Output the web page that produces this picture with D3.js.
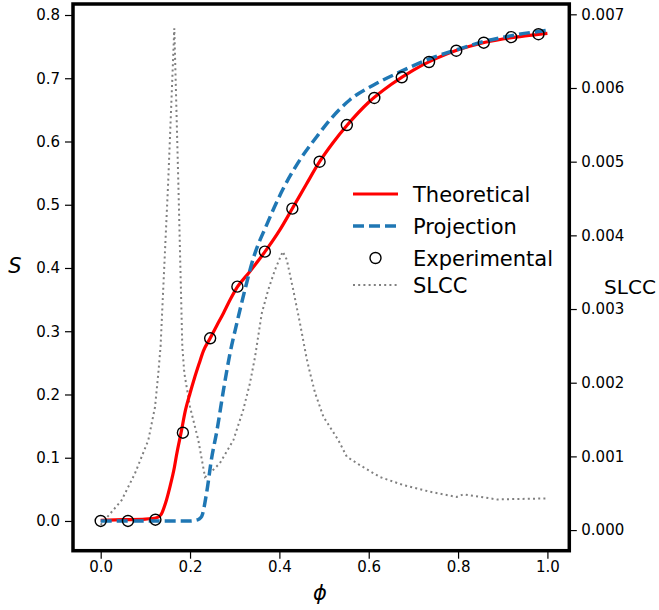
<!DOCTYPE html>
<html>
<head>
<meta charset="utf-8">
<script src="https://cdn.jsdelivr.net/npm/d3@7"></script>
<style>
  body { margin: 0; background: #fff; }
  text { font-family: "DejaVu Sans", sans-serif; }
</style>
</head>
<body>
<div id="chart"></div>
<script>
// theoretical curve
const theoPhi = [0, 0.05, 0.1, 0.125, 0.135, 0.145, 0.155, 0.165, 0.17, 0.18, 0.19, 0.2, 0.21, 0.22, 0.23, 0.245, 0.26, 0.275, 0.29, 0.306, 0.33, 0.35, 0.367, 0.4, 0.429, 0.46, 0.49, 0.52, 0.552, 0.6, 0.65, 0.7, 0.75, 0.8, 0.85, 0.9, 0.95, 1.0];
const theoS = [0.001, 0.002, 0.003, 0.005, 0.010, 0.028, 0.054, 0.085, 0.105, 0.140, 0.176, 0.202, 0.226, 0.248, 0.269, 0.289, 0.309, 0.329, 0.35, 0.37, 0.391, 0.409, 0.425, 0.459, 0.494, 0.532, 0.568, 0.598, 0.626, 0.662, 0.69, 0.713, 0.731, 0.745, 0.755, 0.762, 0.767, 0.771];

// projection curve
const projPhi = [0, 0.05, 0.1, 0.15, 0.2, 0.212, 0.22, 0.226, 0.237, 0.2485, 0.26, 0.2745, 0.2895, 0.305, 0.323, 0.342, 0.372, 0.409, 0.446, 0.484, 0.513, 0.558, 0.61, 0.67, 0.737, 0.797, 0.857, 0.917, 1.0];
const projS = [0, 0, 0, 0, 0, 0.001, 0.003, 0.007, 0.044, 0.10, 0.142, 0.2055, 0.265, 0.3135, 0.366, 0.416, 0.469, 0.526, 0.571, 0.608, 0.634, 0.666, 0.689, 0.710, 0.731, 0.745, 0.758, 0.767, 0.776];

// experimental points
const expPhi = [0, 0.061, 0.1225, 0.184, 0.245, 0.306, 0.3675, 0.429, 0.49, 0.551, 0.6125, 0.674, 0.735, 0.796, 0.8575, 0.919, 0.98];
const expS = [0.0, 0.0, 0.002, 0.1396, 0.2888, 0.3705, 0.4258, 0.4938, 0.568, 0.626, 0.6688, 0.7015, 0.7257, 0.7435, 0.7562, 0.765, 0.7696];

// SLCC (right axis)
const slccPhi = [0, 0.047, 0.0768, 0.1066, 0.1216, 0.129, 0.134, 0.151, 0.1648, 0.1738, 0.1827, 0.1872, 0.2, 0.2185, 0.2335, 0.241, 0.267, 0.297, 0.319, 0.334, 0.3455, 0.3605, 0.375, 0.39, 0.4075, 0.4165, 0.431, 0.446, 0.461, 0.4687, 0.48, 0.4984, 0.532, 0.551, 0.5806, 0.625, 0.6776, 0.737, 0.797, 0.812, 0.887, 1.0];
const slccVal = [0.00007, 0.000407, 0.00077, 0.00122, 0.00167, 0.00213, 0.00249, 0.00471, 0.00681, 0.00471, 0.00249, 0.00213, 0.00167, 0.00122, 0.00072, 0.00075, 0.00091, 0.00122, 0.00163, 0.00199, 0.00235, 0.00294, 0.00326, 0.00353, 0.00378, 0.00367, 0.00326, 0.00281, 0.00233, 0.00213, 0.00186, 0.00154, 0.00122, 0.000995, 0.00088, 0.00072, 0.00061, 0.00052, 0.00045, 0.000485, 0.000416, 0.00043];

const xTicks = [0, 0.2, 0.4, 0.6, 0.8, 1.0];
const yTicks = [0, 0.1, 0.2, 0.3, 0.4, 0.5, 0.6, 0.7, 0.8];
const y2Ticks = [0, 0.001, 0.002, 0.003, 0.004, 0.005, 0.006, 0.007];

const legendItems = ["Theoretical", "Projection", "Experimental", "SLCC"];

const W = 659, H = 610;
const pLeft = 73, pRight = 569.3, pTop = 4, pBottom = 550.7;

const svg = d3.select("#chart")
  .append("svg")
    .attr("width", W)
    .attr("height", H);

const x = d3.scaleLinear()
    .domain([-0.062, 1.049])
    .range([pLeft, pRight]);
const y = d3.scaleLinear()
    .domain([-0.047, 0.8174])
    .range([pBottom, pTop]);
const y2 = d3.scaleLinear()
    .domain([-0.00028, 0.00714])
    .range([pBottom, pTop]);

// axes
const xAxis = svg.append("g")
  .attr("transform", `translate(0, ${pBottom})`)
  .call(d3.axisBottom(x).tickValues(xTicks).tickFormat(d3.format(".1f")).tickSize(8).tickPadding(3));
const yAxis = svg.append("g")
  .attr("transform", `translate(${pLeft}, 0)`)
  .call(d3.axisLeft(y).tickValues(yTicks).tickFormat(d3.format(".1f")).tickSize(8).tickPadding(5));
const y2Axis = svg.append("g")
  .attr("transform", `translate(${pRight}, 0)`)
  .call(d3.axisRight(y2).tickValues(y2Ticks).tickFormat(d3.format(".3f")).tickSize(7.5).tickPadding(4.5));

[xAxis, yAxis, y2Axis].forEach(g => {
  g.select(".domain").remove();
  g.selectAll(".tick line").attr("stroke", "#000").attr("stroke-width", 1.2);
  g.selectAll(".tick text")
    .attr("font-family", "DejaVu Sans")
    .attr("font-size", 15)
    .attr("fill", "#000");
});

const plot = svg.append("g");

// SLCC dotted line
plot.append("path")
  .datum(slccPhi.map((p, i) => ({x: p, y: slccVal[i]})))
  .attr("fill", "none")
  .attr("stroke", "#808080")
  .attr("stroke-width", 2)
  .attr("stroke-dasharray", "2,3.2")
  .attr("d", d3.line()
    .x(d => x(d.x))
    .y(d => y2(d.y)));

// theoretical
plot.append("path")
  .datum(theoPhi.map((p, i) => ({x: p, y: theoS[i]})))
  .attr("fill", "none")
  .attr("stroke", "#ff0000")
  .attr("stroke-width", 3.2)
  .attr("d", d3.line()
    .curve(d3.curveMonotoneX)
    .x(d => x(d.x))
    .y(d => y(d.y)));

// projection
plot.append("path")
  .datum(projPhi.map((p, i) => ({x: p, y: projS[i]})))
  .attr("fill", "none")
  .attr("stroke", "#1f77b4")
  .attr("stroke-width", 3.5)
  .attr("stroke-dasharray", "11,5")
  .attr("d", d3.line()
    .curve(d3.curveMonotoneX)
    .x(d => x(d.x))
    .y(d => y(d.y)));

// experimental circles
plot.selectAll("circle.exp")
  .data(expPhi.map((p, i) => ({x: p, y: expS[i]})))
  .join("circle")
    .attr("class", "exp")
    .attr("cx", d => x(d.x))
    .attr("cy", d => y(d.y))
    .attr("r", 5.5)
    .attr("fill", "none")
    .attr("stroke", "#000")
    .attr("stroke-width", 1.4);

// frame
svg.append("rect")
  .attr("x", pLeft)
  .attr("y", pTop)
  .attr("width", pRight - pLeft)
  .attr("height", pBottom - pTop)
  .attr("fill", "none")
  .attr("stroke", "#000")
  .attr("stroke-width", 3.5);

// axis labels
svg.append("text")
  .attr("x", 15)
  .attr("y", 273)
  .attr("text-anchor", "middle")
  .attr("font-size", 21)
  .attr("font-style", "italic")
  .text("S");
svg.append("text")
  .attr("x", 630)
  .attr("y", 294)
  .attr("text-anchor", "middle")
  .attr("font-size", 20)
  .text("SLCC");
svg.append("text")
  .attr("x", 320)
  .attr("y", 600)
  .attr("text-anchor", "middle")
  .attr("font-size", 21)
  .attr("font-style", "italic")
  .text("ϕ");

// legend
const legY = [194, 226, 258, 285];
const leg = svg.append("g");
legendItems.forEach((name, i) => {
  const cy = legY[i];
  if (name === "Theoretical") {
    leg.append("line").attr("x1", 353).attr("x2", 398).attr("y1", cy).attr("y2", cy)
      .attr("stroke", "#ff0000").attr("stroke-width", 3.2);
  } else if (name === "Projection") {
    leg.append("line").attr("x1", 353).attr("x2", 398).attr("y1", cy).attr("y2", cy)
      .attr("stroke", "#1f77b4").attr("stroke-width", 3.5).attr("stroke-dasharray", "11,5");
  } else if (name === "Experimental") {
    leg.append("circle").attr("cx", 375.5).attr("cy", cy).attr("r", 5.5)
      .attr("fill", "none").attr("stroke", "#000").attr("stroke-width", 1.4);
  } else {
    leg.append("line").attr("x1", 353).attr("x2", 398).attr("y1", cy).attr("y2", cy)
      .attr("stroke", "#808080").attr("stroke-width", 2).attr("stroke-dasharray", "2,3.2");
  }
  leg.append("text")
    .attr("x", 413)
    .attr("y", cy + 7.5)
    .attr("font-size", 21)
    .text(name);
});
</script>
</body>
</html>
